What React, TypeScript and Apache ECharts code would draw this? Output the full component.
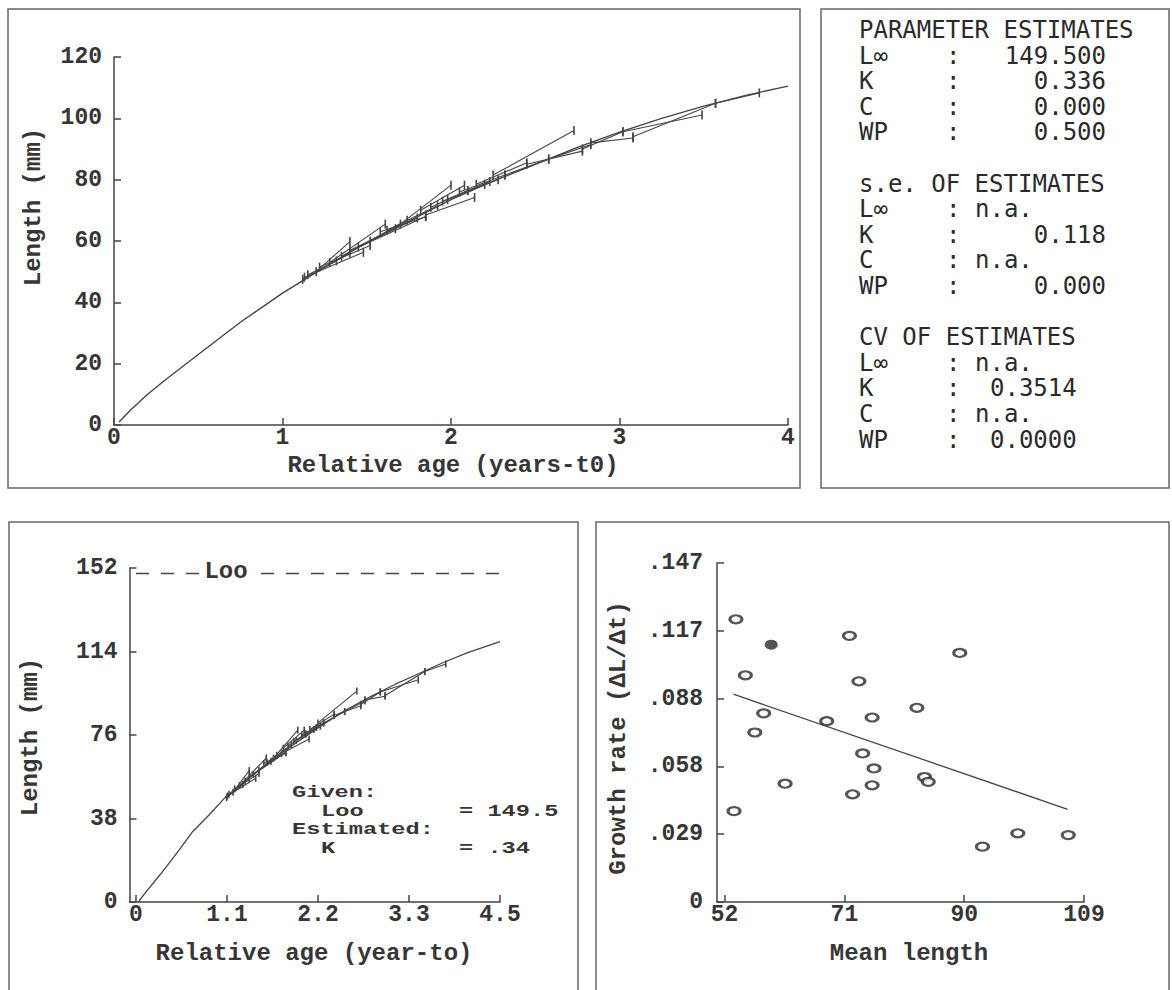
import React, { useEffect, useRef } from 'react';
import * as echarts from 'echarts';

// ---------- Top-left: growth curve (Relative age vs Length) ----------
const curveAgeA = [0.03, 0.1, 0.2, 0.3, 0.5, 0.75, 1.0, 1.25, 1.5, 1.75, 2.0, 2.25, 2.5, 2.75, 3.0, 3.25, 3.5, 3.75, 4.0];
const curveLenA = [1, 5, 10, 14.5, 23, 33.5, 43, 51.5, 59.5, 66.5, 73.5, 79.5, 85, 90.5, 95.5, 100, 104, 107.5, 110.5];

// growth increments (start age/length -> end age/length)
const segAge1 = [1.12, 1.13, 1.20, 1.28, 1.35, 1.45, 1.58, 1.70, 1.82, 1.85, 1.95, 2.05, 2.15, 2.25, 2.32, 2.45, 2.58, 2.78, 2.83, 3.02, 3.08, 3.57, 1.15, 1.22, 1.40, 1.52, 1.62, 1.88, 1.98, 2.10];
const segLen1 = [47.5, 48.2, 50.0, 53.0, 55.0, 58.0, 63.0, 65.5, 70.0, 68.5, 73.0, 76.0, 78.5, 81.5, 81.5, 85.0, 86.7, 90.0, 92.0, 95.6, 94.0, 104.9, 49.0, 51.5, 57.0, 60.0, 63.5, 71.0, 73.5, 76.5];
const segAge2 = [1.40, 1.48, 1.40, 1.61, 1.74, 1.85, 1.85, 2.00, 2.08, 2.14, 2.23, 2.32, 2.45, 2.73, 2.58, 2.78, 2.83, 3.02, 3.08, 3.49, 3.57, 3.83, 1.32, 1.52, 1.67, 1.80, 1.92, 2.10, 2.20, 2.28];
const segLen2 = [56.0, 56.3, 59.8, 65.5, 66.8, 68.0, 67.9, 78.2, 78.2, 74.2, 79.4, 81.5, 85.5, 96.0, 86.7, 89.3, 91.5, 95.6, 93.6, 101.1, 104.9, 108.3, 53.5, 58.5, 64.0, 67.5, 71.5, 76.5, 78.5, 80.0];

// ---------- Bottom-left: curve with Loo ----------
const curveAgeB = [0.03, 0.1, 0.3, 0.5, 0.7, 0.9, 1.1, 1.4, 1.7, 2.0, 2.3, 2.6, 2.9, 3.2, 3.5, 3.8, 4.1, 4.5];
const curveLenB = [0, 3.5, 12.5, 22, 32, 39.5, 47.5, 56.5, 65, 73, 80.5, 87.5, 93.5, 99, 104, 109, 113.5, 118.5];
const looValue = 149.5;
const xTicksB = [0, 1.125, 2.25, 3.375, 4.5];
const xLabelsB = ['0', '1.1', '2.2', '3.3', '4.5'];

// ---------- Bottom-right: growth rate vs mean length ----------
const meanLength = [53.8, 55.3, 58.2, 56.8, 61.6, 53.5, 68.2, 71.8, 73.3, 75.4, 73.9, 75.7, 75.4, 72.3, 82.5, 83.7, 84.3, 89.3, 92.9, 98.5, 106.5];
const growthRate = [0.1226, 0.0983, 0.0818, 0.0735, 0.0513, 0.0394, 0.0784, 0.1154, 0.0957, 0.0800, 0.0644, 0.0579, 0.0506, 0.0467, 0.0842, 0.0542, 0.0521, 0.1080, 0.0240, 0.0298, 0.0290];
const filledLength = [59.4];
const filledRate = [0.1116];
const regLength = [53.4, 106.4];
const regRate = [0.0901, 0.0402];
const xTicksC = [52, 71, 90, 109];
const yTicksC = [0, 0.0294, 0.0588, 0.0882, 0.1176, 0.147];
const yLabelsC = ['0', '.029', '.058', '.088', '.117', '.147'];

// ---------- Parameter panel ----------
const paramLabels = ['L\u221e', 'K', 'C', 'WP'];
const paramEst = ['149.500', '0.336', '0.000', '0.500'];
const paramSe = ['n.a.', '0.118', 'n.a.', '0.000'];
const paramCv = ['n.a.', '0.3514', 'n.a.', '0.0000'];
const groupTitles = ['PARAMETER ESTIMATES', 's.e. OF ESTIMATES', 'CV OF ESTIMATES'];

// ---------- Bottom-left annotation ----------
const noteHeads = ['Given:', 'Estimated:'];
const noteNames = ['Loo', 'K'];
const noteValues = ['= 149.5', '= .34'];

const INK = '#363636';
const LINE = '#454545';
const MONO = 'Liberation Mono';
const PANEL_FONT = 'DejaVu Sans Mono';

const pair = (xs: number[], ys: number[]) => xs.map((x, i) => [x, ys[i]]);
const nearest = (arr: number[], v: number) => {
  let best = 0;
  arr.forEach((a, i) => { if (Math.abs(a - v) < Math.abs(arr[best] - v)) best = i; });
  return best;
};

const labelBase = { color: INK, fontFamily: MONO, fontWeight: 'bold', fontSize: 23 };
const tickBase = { show: true, inside: true, length: 7, lineStyle: { color: '#444', width: 1.5 } };

function axis(extra: any, isX: boolean) {
  return {
    type: 'value',
    axisLine: { show: true, onZero: false, lineStyle: { color: '#444', width: 1.5 } },
    axisTick: tickBase,
    splitLine: { show: false },
    axisLabel: { ...labelBase, margin: isX ? 1 : 12 },
    ...extra,
  };
}

function txt(text: string, x: number, y: number, opts: any = {}) {
  return {
    type: 'text', x, y, silent: true, rotation: opts.rotation || 0, z: 10,
    scaleX: opts.scaleX || 1,
    style: {
      text, fill: opts.fill || INK, fontFamily: opts.fontFamily || MONO,
      fontWeight: opts.fontWeight || 'bold', fontSize: opts.fontSize || 24,
      align: opts.align || 'left', verticalAlign: 'middle',
      backgroundColor: opts.bg, padding: opts.bg ? [0, 4] : 0,
    },
  };
}

function buildOption() {
  const graphics: any[] = [];
  const border = { fill: 'none', stroke: '#666', lineWidth: 1.5 };
  graphics.push({ type: 'rect', silent: true, z: 0, shape: { x: 8, y: 9, width: 792, height: 479 }, style: border });
  graphics.push({ type: 'rect', silent: true, z: 0, shape: { x: 821, y: 9, width: 348, height: 479 }, style: border });
  graphics.push({ type: 'rect', silent: true, z: 0, shape: { x: 9, y: 522, width: 569, height: 480 }, style: border });
  graphics.push({ type: 'rect', silent: true, z: 0, shape: { x: 596, y: 522, width: 573, height: 480 }, style: border });

  // Parameter panel text
  const pitch = 25.6;
  const rowY = (i: number) => 30 + pitch * i;
  const pOpts = { fontFamily: PANEL_FONT, fontWeight: 'normal', fontSize: 24, fill: '#2a2a2a' };
  const groups = [paramEst, paramSe, paramCv];
  groups.forEach((vals, g) => {
    const base = g * 6;
    graphics.push(txt(groupTitles[g], 859, rowY(base), pOpts));
    paramLabels.forEach((lab, i) => {
      const y = rowY(base + 1 + i);
      graphics.push(txt(lab, 859, y, pOpts));
      graphics.push(txt(':', 946, y, pOpts));
      const v = vals[i];
      if (v === 'n.a.') graphics.push(txt(v, 975, y, pOpts));
      else if (g === 2) graphics.push(txt(v, 990, y, pOpts));
      else graphics.push(txt(v, 1106, y, { ...pOpts, align: 'right' }));
    });
  });

  // Axis titles
  graphics.push(txt('Length (mm)', 33, 207, { rotation: Math.PI / 2, align: 'center' }));
  graphics.push(txt('Relative age (years-t0)', 453, 465, { align: 'center' }));
  graphics.push(txt('Length (mm)', 30, 737, { rotation: Math.PI / 2, align: 'center' }));
  graphics.push(txt('Relative age (year-to)', 314, 953, { align: 'center' }));
  graphics.push(txt('Growth rate (\u0394L/\u0394t)', 618, 738, { rotation: Math.PI / 2, align: 'center' }));
  graphics.push(txt('Mean length', 909, 953, { align: 'center' }));

  // Bottom-left annotations (wide, short glyphs like the reference)
  graphics.push(txt('Loo', 226, 571, { align: 'center', bg: '#fff' }));
  const nOpts = { fontSize: 16, scaleX: 1.48 };
  const noteY = [793, 811.5, 830, 848.5];
  noteHeads.forEach((h, i) => {
    graphics.push(txt(h, 292, noteY[2 * i], nOpts));
    graphics.push(txt(noteNames[i], 321, noteY[2 * i + 1], nOpts));
    graphics.push(txt(noteValues[i], 459, noteY[2 * i + 1], nOpts));
  });

  const segSeries = (axisIdx: number, barH: number) =>
    segAge1.map((_, i) => ({
      type: 'line', xAxisIndex: axisIdx, yAxisIndex: axisIdx, silent: true,
      data: [[segAge1[i], segLen1[i]], [segAge2[i], segLen2[i]]],
      symbol: 'rect', symbolSize: [1.6, barH], showSymbol: true,
      itemStyle: { color: LINE }, lineStyle: { color: LINE, width: 1.1 }, z: 3,
    }));

  const series: any[] = [
    { type: 'line', xAxisIndex: 0, yAxisIndex: 0, data: pair(curveAgeA, curveLenA), symbol: 'none', lineStyle: { color: LINE, width: 1.4 }, silent: true },
    ...segSeries(0, 9),
    { type: 'line', xAxisIndex: 1, yAxisIndex: 1, data: pair(curveAgeB, curveLenB), symbol: 'none', lineStyle: { color: LINE, width: 1.3 }, silent: true },
    ...segSeries(1, 7),
    { type: 'line', xAxisIndex: 1, yAxisIndex: 1, data: [[0, looValue], [4.5, looValue]], symbol: 'none', lineStyle: { color: LINE, width: 1.6, type: [13, 12] }, silent: true },
    { type: 'line', xAxisIndex: 2, yAxisIndex: 2, data: pair(regLength, regRate), symbol: 'none', lineStyle: { color: LINE, width: 1.3 }, silent: true },
    { type: 'scatter', xAxisIndex: 2, yAxisIndex: 2, data: pair(meanLength, growthRate), symbol: 'circle', symbolSize: [12, 8], itemStyle: { color: '#fff', borderColor: '#2a2a2a', borderWidth: 2.6 }, silent: true, z: 4 },
    { type: 'scatter', xAxisIndex: 2, yAxisIndex: 2, data: pair(filledLength, filledRate), symbol: 'circle', symbolSize: [13, 10], itemStyle: { color: '#2a2a2a' }, silent: true, z: 4 },
  ];

  return {
    animation: false,
    backgroundColor: '#fff',
    grid: [
      { left: 114, top: 57, width: 674, height: 368, outerBoundsMode: 'none', containLabel: false },
      { left: 129.5, top: 568, width: 370.5, height: 334, outerBoundsMode: 'none', containLabel: false },
      { left: 717, top: 563, width: 367, height: 339, outerBoundsMode: 'none', containLabel: false },
    ],
    xAxis: [
      axis({ gridIndex: 0, min: 0, max: 4, interval: 1 }, true),
      axis({
        gridIndex: 1, min: -0.08, max: 4.5,
        axisTick: { ...tickBase, customValues: xTicksB },
        axisLabel: { ...labelBase, margin: 1, customValues: xTicksB, formatter: (v: number) => xLabelsB[nearest(xTicksB, v)] },
      }, true),
      axis({
        gridIndex: 2, min: 50.8, max: 109,
        axisTick: { ...tickBase, customValues: xTicksC },
        axisLabel: { ...labelBase, margin: 1, customValues: xTicksC },
      }, true),
    ],
    yAxis: [
      axis({ gridIndex: 0, min: 0, max: 120, interval: 20 }, false),
      axis({ gridIndex: 1, min: 0, max: 152, interval: 38 }, false),
      axis({
        gridIndex: 2, min: 0, max: 0.147,
        axisTick: { ...tickBase, customValues: yTicksC },
        axisLabel: { ...labelBase, margin: 14, customValues: yTicksC, formatter: (v: number) => yLabelsC[nearest(yTicksC, v)] },
      }, false),
    ],
    series,
    graphic: graphics,
  };
}

export default function App() {
  const ref = useRef<HTMLDivElement>(null);
  useEffect(() => {
    const chart = echarts.init(ref.current!, null, { renderer: 'svg' });
    chart.setOption(buildOption() as any);
    return () => chart.dispose();
  }, []);
  return (
    <div
      ref={ref}
      style={{ position: 'fixed', left: 0, top: 0, width: 1172, height: 990, background: '#fff' }}
    />
  );
}
